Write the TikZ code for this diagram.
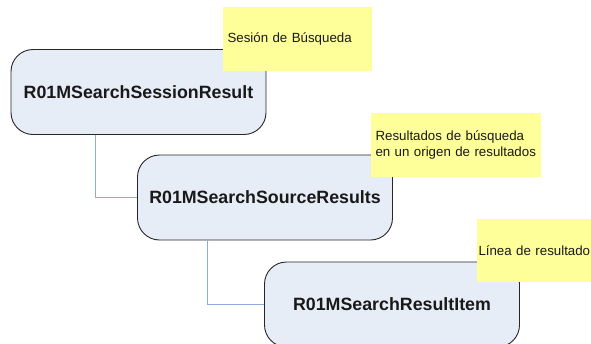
\documentclass[tikz,border=0pt]{standalone}
\usepackage{fontspec}
\setmainfont{Liberation Sans}
\definecolor{boxfill}{HTML}{E7EDF7}
\definecolor{notefill}{HTML}{FFFF99}
\definecolor{linkblue}{HTML}{8FAADC}
\begin{document}
\begin{tikzpicture}[x=1pt,y=-1pt,
  cls/.style={draw=black!85,line width=0.9pt,fill=boxfill,rounded corners=22pt,
    minimum width=255pt,minimum height=85pt,inner sep=0pt,
    font=\fontsize{17.8}{21}\selectfont\bfseries,text=black!90},
  note/.style={fill=notefill,draw=none,inner sep=0pt,
    text width=#1,align=left,font=\fontsize{13.3}{15.5}\selectfont,text=black!90},
  link/.style={draw=linkblue,line width=0.9pt}]
\useasboundingbox (0,0) rectangle (591,343);
\node[cls] (b1) at (138.5,92) {R01MSearchSessionResult};
\node[cls] (b2) at (265,197.5) {R01MSearchSourceResults};
\node[cls] (b3) at (392,304.5) {R01MSearchResultItem};
\draw[link] ([xshift=85pt]b1.south west) |- (b2.west);
\draw[link] ([xshift=70pt]b2.south west) |- (b3.west);
\node[note=146pt,minimum height=64pt,minimum width=149pt] (n1) at (297.5,39)
  {\hspace*{3pt}Sesión de Búsqueda};
\node[note=167pt,minimum height=64pt,minimum width=170pt] (n2) at (456,145)
  {\hspace*{3pt}Resultados de búsqueda\\\hspace*{3pt}en un origen de resultados};
\node[note=119pt,minimum height=63pt,minimum width=120pt] (n3) at (537,250.5)
  {\hspace*{1pt}Línea de resultado};
\end{tikzpicture}
\end{document}
